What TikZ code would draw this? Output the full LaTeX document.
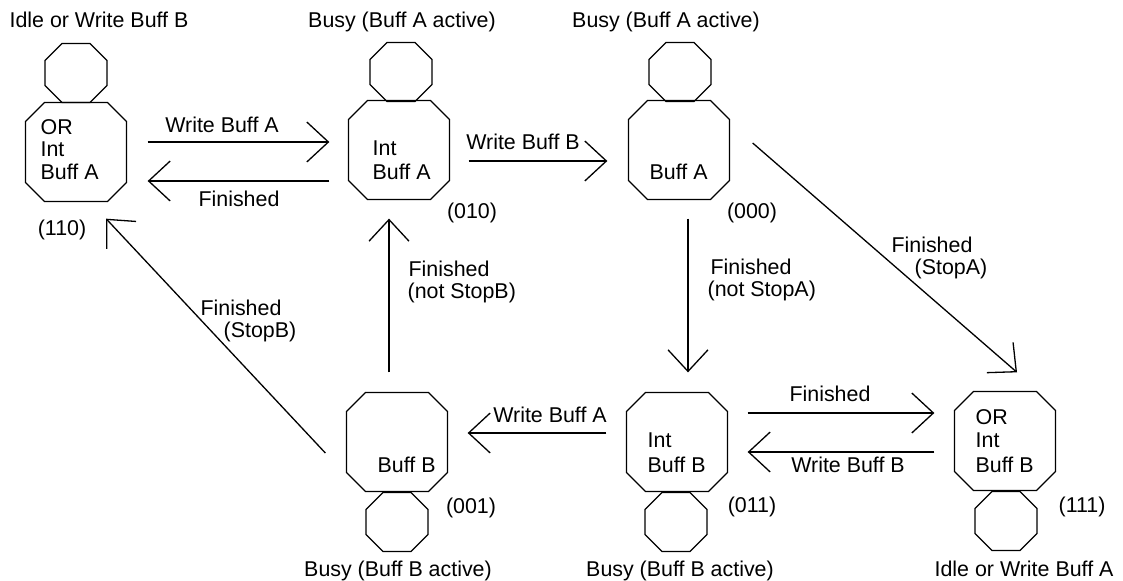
\documentclass[tikz,border=0pt]{standalone}
\usepackage{fontspec}
\setmainfont{Liberation Sans}
\usetikzlibrary{arrows.meta}
\newcommand{\octshape}[4]{% node name, half width, half height, chamfer
  \draw[shift={(#1.center)}] (-#2+#4,-#3) -- (#2-#4,-#3) -- (#2,-#3+#4) -- (#2,#3-#4)
    -- (#2-#4,#3) -- (-#2+#4,#3) -- (-#2,#3-#4) -- (-#2,-#3+#4) -- cycle;}
\begin{document}
\begin{tikzpicture}[x=0.5pt,y=-0.5pt,line width=0.65pt,
  font=\fontsize{10.7}{11.3}\selectfont,
  state/.style={minimum width=50.5pt,minimum height=49.5pt,inner sep=0pt},
  bub/.style={minimum width=31pt,minimum height=29.5pt,inner sep=0pt},
  lab/.style={inner sep=0pt,anchor=base},
  inlab/.style={inner sep=0pt,anchor=base west},
  arr/.style={-{Straight Barb[length=10.8pt,width=20pt]}}]
\useasboundingbox (0,0) rectangle (1123,581);
% state nodes
\node[state] (A110) at (76,152) {};
\node[state] (A010) at (399,150) {};
\node[state] (A000) at (679,150) {};
\node[state] (B001) at (397,442) {};
\node[state] (B011) at (677,442) {};
\node[state] (B111) at (1005,441) {};
\node[bub] (A110t) at (76,73) {};
\node[bub] (A010t) at (401,72) {};
\node[bub] (A000t) at (680,72) {};
\node[bub] (B001b) at (397,522) {};
\node[bub] (B011b) at (676,522) {};
\node[bub] (B111b) at (1006,521) {};
\foreach \n in {A110,A010,A000,B001,B011,B111} {\octshape{\n}{50.5}{49.5}{19}}
\foreach \n in {A110t,A010t,A000t,B001b,B011b,B111b} {\octshape{\n}{31}{29.5}{17}}
% inner texts
\node[inlab] (t1a) at (40,135) {OR};
\node[inlab] (t1b) at (40,157) {Int};
\node[inlab] (t1c) at (40,180) {Buff A};
\node[inlab] (t2a) at (372,156) {Int};
\node[inlab] (t2b) at (372,180) {Buff A};
\node[inlab] (t3a) at (649,180) {Buff A};
\node[inlab] (t4a) at (377,473) {Buff B};
\node[inlab] (t5a) at (647,448) {Int};
\node[inlab] (t5b) at (647,473) {Buff B};
\node[inlab] (t6a) at (975,425) {OR};
\node[inlab] (t6b) at (975,448) {Int};
\node[inlab] (t6c) at (975,473) {Buff B};
% titles
\node[lab] (h1) at (99,28) {Idle or Write Buff B};
\node[lab] (h2) at (402,28) {Busy (Buff A active)};
\node[lab] (h3) at (666,28) {Busy (Buff A active)};
\node[lab] (h4) at (398,576) {Busy (Buff B active)};
\node[lab] (h5) at (680,576) {Busy (Buff B active)};
\node[lab] (h6) at (1024,576) {Idle or Write Buff A};
% codes
\node[lab] (c1) at (62,236) {(110)};
\node[lab] (c2) at (472,219) {(010)};
\node[lab] (c3) at (752,219) {(000)};
\node[lab] (c4) at (471,514) {(001)};
\node[lab] (c5) at (752,513) {(011)};
\node[lab] (c6) at (1082,513) {(111)};
% connectors
\draw[arr] ([shift={(20.5,-10)}]A110.east) -- ([shift={(-18.5,-8)}]A010.west);
\draw[arr] ([shift={(-18.5,31)}]A010.west) -- ([shift={(20.5,29)}]A110.east);
\draw[arr] ([shift={(18.5,11)}]A010.east) -- ([shift={(-20.5,11)}]A000.west);
\draw[arr] ([shift={(-8,-19.5)}]B001.north) -- ([shift={(-10,18.5)}]A010.south);
\draw[arr] ([shift={(9,18.5)}]A000.south) -- ([shift={(11,-19.5)}]B011.north);
\draw[arr] ([shift={(22.5,-7)}]A000.east) -- ([shift={(12,-18.5)}]B111.north);
\draw[arr] ([shift={(-20.5,11)}]B001.west) -- ([shift={(30,16.5)}]A110.south);
\draw[arr] ([shift={(-19.5,-9)}]B011.west) -- ([shift={(19.5,-9)}]B001.east);
\draw[arr] ([shift={(19.5,-29)}]B011.east) -- ([shift={(-19.5,-28)}]B111.west);
\draw[arr] ([shift={(-19.5,11)}]B111.west) -- ([shift={(19.5,10)}]B011.east);
% connector labels
\node[lab] (l1) at (222,133) {Write Buff A};
\node[lab] (l2) at (239,207) {Finished};
\node[lab] (l3) at (523,150) {Write Buff B};
\node[inlab] (l4a) at (408,277) {Finished};
\node[inlab] (l4b) at (407,299) {(not StopB)};
\node[inlab] (l5a) at (710,275) {Finished};
\node[inlab] (l5b) at (707,297) {(not StopA)};
\node[lab] (l6a) at (932,253) {Finished};
\node[lab] (l6b) at (951,275) {(StopA)};
\node[lab] (l7a) at (241,316) {Finished};
\node[lab] (l7b) at (260,338) {(StopB)};
\node[lab] (l8) at (550,423) {Write Buff A};
\node[lab] (l9) at (830,402) {Finished};
\node[lab] (l10) at (848,473) {Write Buff B};
\end{tikzpicture}
\end{document}
